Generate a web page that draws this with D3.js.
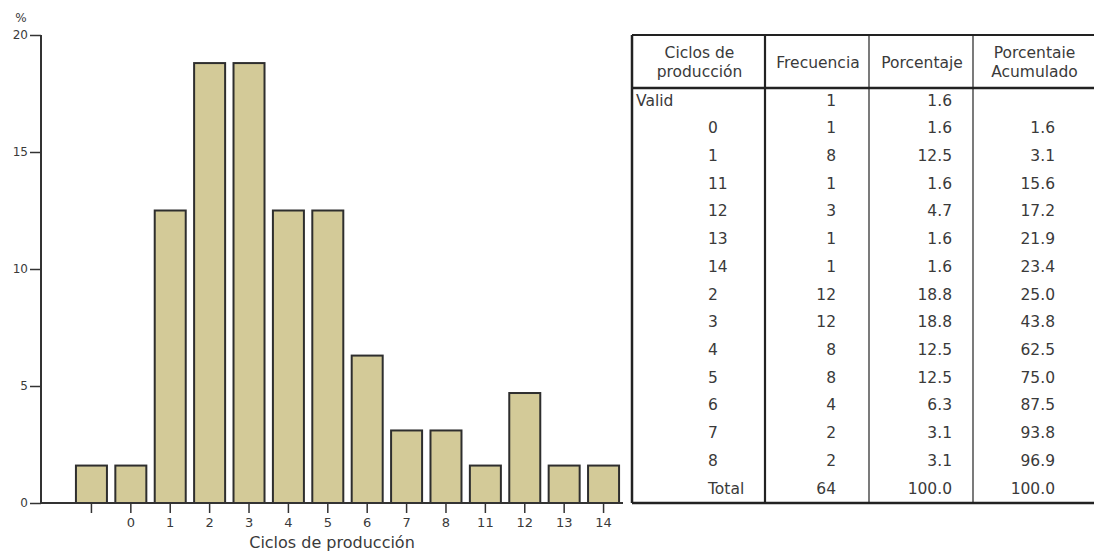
<!DOCTYPE html>
<html><head><meta charset="utf-8">
<script src="https://cdn.jsdelivr.net/npm/d3@7"></script>
<style>
html,body{margin:0;padding:0;background:#fff;}
svg{display:block;font-family:"DejaVu Sans",sans-serif;}
</style></head>
<body>
<svg id="c" width="1094" height="554"></svg>
<script>
// Chart data
const categories = ["", "0", "1", "2", "3", "4", "5", "6", "7", "8", "11", "12", "13", "14"];
const percents = [1.6, 1.6, 12.5, 18.8, 18.8, 12.5, 12.5, 6.3, 3.1, 3.1, 1.6, 4.7, 1.6, 1.6];
const yTicks = [0, 5, 10, 15, 20];

// Table data
const tableHeaders = [["Ciclos de", "producción"], ["Frecuencia"], ["Porcentaje"], ["Porcentaie", "Acumulado"]];
const tableLabels = ["Valid", "0", "1", "11", "12", "13", "14", "2", "3", "4", "5", "6", "7", "8", "Total"];
const tableFreq = ["1", "1", "8", "1", "3", "1", "1", "12", "12", "8", "8", "4", "2", "2", "64"];
const tablePct = ["1.6", "1.6", "12.5", "1.6", "4.7", "1.6", "1.6", "18.8", "18.8", "12.5", "12.5", "6.3", "3.1", "3.1", "100.0"];
const tableCum = ["", "1.6", "3.1", "15.6", "17.2", "21.9", "23.4", "25.0", "43.8", "62.5", "75.0", "87.5", "93.8", "96.9", "100.0"];

const svg = d3.select("#c");
const textCol = "#3a3a3a";
const FONT = "'DejaVu Sans', sans-serif";

// ---- Bar chart ----
const x = d3.scaleBand().domain(categories).range([72, 623]).paddingInner(0.213).paddingOuter(0.1);
const y = d3.scaleLinear().domain([0, 20]).range([503, 35]);
const axisLeftX = 41;

const g = svg.append("g");
g.selectAll("rect.bar").data(percents).enter().append("rect")
  .attr("class", "bar")
  .attr("x", (d, i) => x(categories[i]))
  .attr("y", d => y(d))
  .attr("width", x.bandwidth())
  .attr("height", d => y(0) - y(d))
  .attr("fill", "#d3ca98")
  .attr("stroke", "#2e2e2e")
  .attr("stroke-width", 2);

// y axis
const yAxis = g.append("g").attr("transform", `translate(${axisLeftX},0)`)
  .call(d3.axisLeft(y).tickValues(yTicks).tickSize(11).tickPadding(2));
yAxis.select(".domain").attr("stroke", "#333").attr("stroke-width", 2).attr("d", `M0,${y(0)}V${y(20)}`);
yAxis.selectAll(".tick line").attr("stroke", "#333").attr("stroke-width", 1.5);
yAxis.selectAll(".tick text").attr("fill", textCol).style("font-size", "12px").style("font-family", FONT);

// x axis
const xAxis = g.append("g").attr("transform", `translate(0,${y(0)})`)
  .call(d3.axisBottom(x).tickSize(10).tickPadding(5));
xAxis.select(".domain").attr("stroke", "#333").attr("stroke-width", 2).attr("d", `M${axisLeftX},0H623`);
xAxis.selectAll(".tick line").attr("stroke", "#333").attr("stroke-width", 1.5);
xAxis.selectAll(".tick text").attr("fill", textCol).style("font-size", "13px").style("font-family", FONT);

svg.append("text").attr("x", 21).attr("y", 22).attr("text-anchor", "middle")
  .attr("fill", textCol).style("font-size", "12px").text("%");
svg.append("text").attr("x", 332).attr("y", 548).attr("text-anchor", "middle")
  .attr("fill", textCol).style("font-size", "16px").text("Ciclos de producción");

// ---- Table ----
const tLeft = 632, tRight = 1096, tTop = 35, tHeadBottom = 88, tBottom = 503;
const colLines = [765, 869, 973];
const colBounds = [tLeft, ...colLines, 1094];
const rowY = d3.scalePoint().domain(d3.range(tableLabels.length)).range([101, 489]);
const tg = svg.append("g").style("font-size", "15.5px").attr("fill", textCol);

// Header
tableHeaders.forEach((lines, ci) => {
  const cx = (colBounds[ci] + colBounds[ci + 1]) / 2 + 1;
  const n = lines.length;
  lines.forEach((t, li) => {
    tg.append("text").attr("x", cx).attr("y", 63 + (li - (n - 1) / 2) * 19)
      .attr("text-anchor", "middle").attr("dominant-baseline", "middle").text(t);
  });
});

// Body
tableLabels.forEach((t, i) => {
  tg.append("text").attr("x", i === 0 ? 636 : 708).attr("y", rowY(i))
    .attr("dominant-baseline", "middle").text(t);
});
tableFreq.forEach((t, i) => {
  tg.append("text").attr("x", 836).attr("y", rowY(i)).attr("text-anchor", "end")
    .attr("dominant-baseline", "middle").text(t);
});
tablePct.forEach((t, i) => {
  tg.append("text").attr("x", 952).attr("y", rowY(i)).attr("text-anchor", "end")
    .attr("dominant-baseline", "middle").text(t);
});
tableCum.forEach((t, i) => {
  tg.append("text").attr("x", 1055).attr("y", rowY(i)).attr("text-anchor", "end")
    .attr("dominant-baseline", "middle").text(t);
});

// Table lines
const lg = svg.append("g").attr("stroke", "#222").attr("fill", "none");
lg.append("line").attr("x1", tLeft).attr("x2", tRight).attr("y1", tTop).attr("y2", tTop).attr("stroke-width", 2);
lg.append("line").attr("x1", tLeft).attr("x2", tRight).attr("y1", tHeadBottom).attr("y2", tHeadBottom).attr("stroke-width", 2.5);
lg.append("line").attr("x1", tLeft).attr("x2", tRight).attr("y1", tBottom).attr("y2", tBottom).attr("stroke-width", 2.5);
lg.append("line").attr("x1", tLeft).attr("x2", tLeft).attr("y1", tTop).attr("y2", tBottom).attr("stroke-width", 2.5);
colLines.forEach((cx, i) => {
  lg.append("line").attr("x1", cx).attr("x2", cx).attr("y1", tTop).attr("y2", tBottom)
    .attr("stroke-width", i === 0 ? 2.2 : 1.2);
});
</script>
</body></html>
